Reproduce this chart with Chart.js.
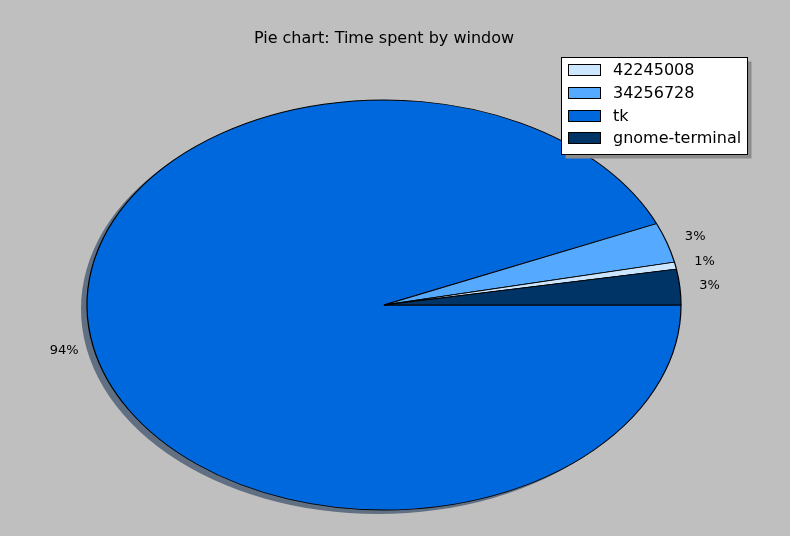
<!DOCTYPE html>
<html>
<head>
<meta charset="utf-8">
<script src="https://cdn.jsdelivr.net/npm/chart.js@4/dist/chart.umd.min.js"></script>
<style>
  html, body { margin: 0; padding: 0; background: #bfbfbf; }
  #wrap { width: 790px; height: 536px; }
</style>
</head>
<body>
<div id="wrap"><canvas id="c" width="790" height="536"></canvas></div>
<script>
// ---- data (legend order) ----
const titleText = 'Pie chart: Time spent by window';
const labels = ['42245008', '34256728', 'tk', 'gnome-terminal'];
const shares = [0.55, 3.15, 93.5, 2.8];
const colors = ['#cce6ff', '#55aaff', '#0068dd', '#003366'];
// order of wedges going round from 3 o'clock (clockwise on screen)
const drawOrder = [2, 1, 0, 3];

// ---- styling ----
const FONT = '"DejaVu Sans", sans-serif';
const xStretch = 297 / 205;      // ellipse: horizontal / vertical radius
const shadowColor = '#606f81';

const orderedLabels = drawOrder.map(i => labels[i]);
const orderedValues = drawOrder.map(i => shares[i]);
const orderedColors = drawOrder.map(i => colors[i]);
const total = shares.reduce((a, b) => a + b, 0);

const ellipsePlugin = {
  id: 'ellipse',
  beforeDatasetsDraw(chart) {
    const arc = chart.getDatasetMeta(0).data[0];
    const cx = arc.x, cy = arc.y, r = arc.outerRadius;
    const ctx = chart.ctx;
    // shadow
    ctx.save();
    ctx.fillStyle = shadowColor;
    ctx.beginPath();
    ctx.ellipse(cx - 6, cy + 4, r * xStretch, r, 0, 0, Math.PI * 2);
    ctx.fill();
    ctx.restore();
    ctx.save();
    ctx.translate(cx, cy);
    ctx.scale(xStretch, 1);
    ctx.translate(-cx, -cy);
  },
  afterDatasetsDraw(chart) {
    chart.ctx.restore();
  }
};

const decorPlugin = {
  id: 'decor',
  afterDraw(chart) {
    const ctx = chart.ctx;
    const meta = chart.getDatasetMeta(0);
    const a0 = meta.data[0];
    const cx = a0.x, cy = a0.y, r = a0.outerRadius;
    ctx.save();
    // title
    ctx.fillStyle = '#000';
    ctx.font = '16px ' + FONT;
    ctx.textAlign = 'center';
    ctx.textBaseline = 'alphabetic';
    ctx.fillText(titleText, 384, 43);

    // percentage labels
    ctx.font = '13px ' + FONT;
    ctx.textBaseline = 'middle';
    meta.data.forEach((arc, i) => {
      const mid = (arc.startAngle + arc.endAngle) / 2;
      const x = cx + 1.1 * r * xStretch * Math.cos(mid);
      const y = cy + 1.1 * r * Math.sin(mid);
      const pct = Math.round(orderedValues[i] / total * 100) + '%';
      ctx.fillText(pct, x, y);
    });

    // legend
    const lx = 561.5, ly = 57.5, lw = 186, lh = 97;
    ctx.fillStyle = '#8c8c8c';
    ctx.fillRect(lx + 4, ly + 4, lw, lh);
    ctx.fillStyle = '#ffffff';
    ctx.fillRect(lx, ly, lw, lh);
    ctx.strokeStyle = '#000';
    ctx.lineWidth = 1;
    ctx.strokeRect(lx, ly, lw, lh);
    ctx.font = '16px ' + FONT;
    ctx.textAlign = 'left';
    ctx.textBaseline = 'alphabetic';
    labels.forEach((lab, i) => {
      const base = 75 + i * 22.8;
      const top = Math.round(base - 11) + 0.5;
      ctx.fillStyle = colors[i];
      ctx.fillRect(568.5, top, 32, 11);
      ctx.strokeStyle = '#000';
      ctx.strokeRect(568.5, top, 32, 11);
      ctx.fillStyle = '#000';
      ctx.fillText(lab, 613, base);
    });
    ctx.restore();
  }
};

new Chart(document.getElementById('c'), {
  type: 'pie',
  data: {
    labels: orderedLabels,
    datasets: [{
      data: orderedValues,
      backgroundColor: orderedColors,
      borderColor: '#000000',
      borderWidth: 0.85,
      hoverOffset: 0,
      offset: 0,
      clip: false
    }]
  },
  options: {
    responsive: false,
    devicePixelRatio: 1,
    animation: false,
    events: [],
    rotation: 90,
    radius: 205,
    layout: { padding: { left: 87, right: 109, top: 100, bottom: 26 } },
    plugins: {
      legend: { display: false },
      title: { display: false },
      tooltip: { enabled: false }
    }
  },
  plugins: [ellipsePlugin, decorPlugin]
});
</script>
</body>
</html>
